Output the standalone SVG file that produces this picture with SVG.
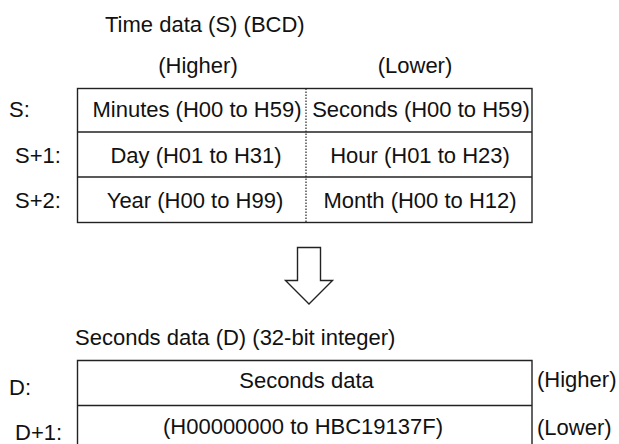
<svg xmlns="http://www.w3.org/2000/svg" width="619" height="444" viewBox="0 0 619 444">
<style>
text{font-family:"Liberation Sans",Arial,sans-serif;font-size:22px;fill:#111}
.m{text-anchor:middle}
.ln{stroke:#222;stroke-width:1.4;fill:none}
.dot{stroke:#222;stroke-width:1.2;stroke-dasharray:1.5 1.5;fill:none}
</style>
<rect width="619" height="444" fill="#fff"/>
<g id="title-s"><text x="105" y="32">Time data (S) (BCD)</text></g>
<g id="hdr-higher"><text class="m" x="198" y="73">(Higher)</text></g>
<g id="hdr-lower"><text class="m" x="415" y="73">(Lower)</text></g>
<g id="table-s">
<rect class="ln" x="77.5" y="88.5" width="454.5" height="134"/>
<line class="ln" x1="77.5" y1="132" x2="532" y2="132"/>
<line class="ln" x1="77.5" y1="177" x2="532" y2="177"/>
<line class="dot" x1="306" y1="88.5" x2="306" y2="222.5"/>
</g>
<g id="row-s"><text x="9" y="117">S:</text><text class="m" x="197" y="117">Minutes (H00 to H59)</text><text class="m" x="421" y="117">Seconds (H00 to H59)</text></g>
<g id="row-s1"><text x="15" y="163">S+1:</text><text class="m" x="196" y="163">Day (H01 to H31)</text><text class="m" x="420" y="163">Hour (H01 to H23)</text></g>
<g id="row-s2"><text x="15" y="207.5">S+2:</text><text class="m" x="195" y="207.5">Year (H00 to H99)</text><text class="m" x="420" y="207.5">Month (H00 to H12)</text></g>
<g id="connectors">
<polygon class="ln" points="297.5,247.5 320.5,247.5 320.5,280.5 332.5,280.5 309,304 285.5,280.5 297.5,280.5"/>
</g>
<g id="title-d"><text x="75" y="345">Seconds data (D) (32-bit integer)</text></g>
<g id="table-d">
<polyline class="ln" points="77.5,445 77.5,360.5 532,360.5 532,445"/>
<line class="ln" x1="77.5" y1="405.5" x2="532" y2="405.5"/>
</g>
<g id="row-d"><text x="9" y="395">D:</text><text class="m" x="306.5" y="388">Seconds data</text><text x="537" y="387">(Higher)</text></g>
<g id="row-d1"><text x="15" y="440">D+1:</text><text class="m" x="303" y="434">(H00000000 to HBC19137F)</text><text x="537" y="435">(Lower)</text></g>
</svg>
